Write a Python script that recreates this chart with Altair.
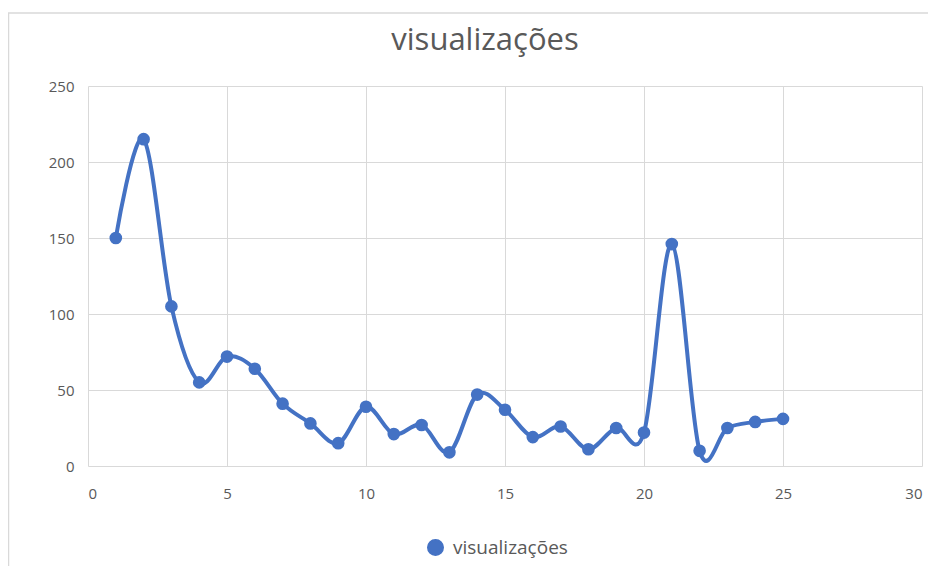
import altair as alt
import pandas as pd

dias = list(range(1, 26))
visualizacoes = [150, 215, 105, 55, 72, 64, 41, 28, 15, 39, 21, 27, 9, 47, 37, 19, 26, 11, 25, 22, 146, 10, 25, 29, 31]
serie = "visualizações"

df = pd.DataFrame({"x": dias, "y": visualizacoes, "serie": [serie] * len(dias)})

BLUE = "#4472C4"
GRAY = "#595959"
GRID = "#D9D9D9"
FONT = "Open Sans"

xs = alt.X("x:Q", scale=alt.Scale(domain=[0, 30], nice=False),
           axis=alt.Axis(values=[0, 5, 10, 15, 20, 25, 30], title=None, domain=False, ticks=False,
                         grid=True, gridColor=GRID, labelColor=GRAY, labelFontSize=15,
                         labelFont=FONT, labelPadding=20))
ys = alt.Y("y:Q", scale=alt.Scale(domain=[0, 250], nice=False),
           axis=alt.Axis(values=[0, 50, 100, 150, 200, 250], title=None, domain=False, ticks=False,
                         grid=True, gridColor=GRID, labelColor=GRAY, labelFontSize=15,
                         labelFont=FONT, labelPadding=14))
color = alt.Color("serie:N", scale=alt.Scale(range=[BLUE]),
                  legend=alt.Legend(title=None, orient="none", legendX=338, legendY=452,
                                    symbolType="circle", symbolSize=240, symbolFillColor=BLUE,
                                    symbolStrokeColor=BLUE, labelColor=GRAY, labelFontSize=19,
                                    labelFont=FONT, labelOffset=8))

one = pd.DataFrame({"a": [0]})
border_top = alt.Chart(one).mark_rule(color=GRID, strokeWidth=1.5).encode(
    x=alt.value(-80), x2=alt.value(900), y=alt.value(-73))
border_left = alt.Chart(one).mark_rule(color=GRID, strokeWidth=1.5).encode(
    x=alt.value(-79.5), y=alt.value(-73), y2=alt.value(600))
title = alt.Chart(one).mark_text(
    text=serie, fontSize=31, font=FONT, color=GRAY, align="center", baseline="middle"
).encode(x=alt.value(397), y=alt.value(-45))

line = alt.Chart(df).mark_line(interpolate="cardinal", strokeWidth=4, color=BLUE).encode(
    x=xs, y=ys, color=color)
pts = alt.Chart(df).mark_circle(size=160, opacity=1, color=BLUE).encode(
    x="x:Q", y="y:Q", color=alt.Color("serie:N", legend=None))

chart = alt.layer(border_top, border_left, title, line, pts).properties(
    width=834, height=380,
    autosize=alt.AutoSizeParams(type="none"),
    padding={"left": 80, "top": 78, "right": 6, "bottom": 100},
).configure_view(stroke=None)

chart.save("out.html", embed_options={"renderer": "svg", "actions": False})
